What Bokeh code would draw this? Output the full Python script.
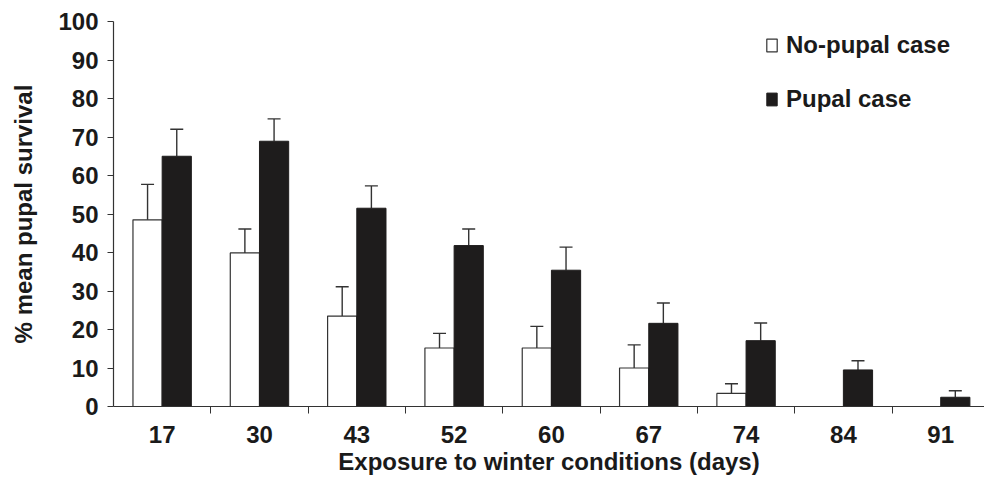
from bokeh.plotting import figure
from bokeh.models import (ColumnDataSource, FixedTicker, Range1d, Whisker, TeeHead,
                          Legend, LegendItem)
from bokeh.embed import file_html
from bokeh.resources import INLINE

days = ["17", "30", "43", "52", "60", "67", "74", "84", "91"]
no_case = [48.5, 39.9, 23.5, 15.2, 15.2, 10.0, 3.4, 0.0, 0.0]
no_case_err = [9.2, 6.2, 7.6, 3.8, 5.6, 6.0, 2.5, 0.0, 0.0]
case = [65.0, 68.9, 51.5, 41.8, 35.4, 21.6, 17.1, 9.5, 2.4]
case_err = [7.0, 5.8, 5.8, 4.3, 6.0, 5.3, 4.6, 2.4, 1.7]
y_ticks = [0, 10, 20, 30, 40, 50, 60, 70, 80, 90, 100]

FONT = "Liberation Sans"
BAR_W = 0.30
centers = [i + 0.5 for i in range(len(days))]

src_no = ColumnDataSource(dict(
    x=[c - BAR_W / 2 for c in centers], top=no_case))
src_no_err = ColumnDataSource(dict(
    x=[c - BAR_W / 2 for c, e in zip(centers, no_case_err) if e > 0],
    upper=[v + e for v, e in zip(no_case, no_case_err) if e > 0],
    lower=[v - e for v, e in zip(no_case, no_case_err) if e > 0]))
src_yes = ColumnDataSource(dict(
    x=[c + BAR_W / 2 for c in centers], top=case,
    upper=[v + e for v, e in zip(case, case_err)],
    lower=case))

p = figure(width=984, height=482, output_backend="svg", toolbar_location=None,
           x_range=Range1d(0, 8.95), y_range=Range1d(0, 100),
           min_border_left=113, min_border_top=21, min_border_right=0,
           min_border_bottom=76)
p.outline_line_color = None
p.grid.visible = False
p.background_fill_color = "white"

r_no = p.vbar(x="x", top="top", width=BAR_W, bottom=0, source=src_no,
              fill_color="white", line_color="#333333", line_width=1.2)
r_yes = p.vbar(x="x", top="top", width=BAR_W, bottom=0, source=src_yes,
               fill_color="#1e1c1c", line_color="#1e1c1c", line_width=1)

p.add_layout(Whisker(source=src_no_err, base="x", upper="upper", lower="lower",
                     line_color="#333333", line_width=1.4,
                     upper_head=TeeHead(size=13, line_color="#333333", line_width=1.4),
                     lower_head=TeeHead(size=13, line_color="#333333", line_width=1.4)))
p.add_layout(Whisker(source=src_yes, base="x", upper="upper", lower="lower",
                     line_color="#333333", line_width=1.4,
                     upper_head=TeeHead(size=13, line_color="#333333", line_width=1.4),
                     lower_head=None))

# x axis: labels at centres, ticks at category boundaries
xa = p.xaxis[0]
xa.ticker = FixedTicker(ticks=centers, minor_ticks=list(range(1, len(days))))
xa.major_label_overrides = {c: d for c, d in zip(centers, days)}
xa.major_tick_out = 0
xa.major_tick_in = 0
xa.minor_tick_out = 7
xa.minor_tick_in = 0
xa.minor_tick_line_color = "#333333"
xa.axis_line_color = "#333333"
xa.axis_line_width = 1.2
xa.major_label_text_font = FONT
xa.major_label_text_font_style = "bold"
xa.major_label_text_font_size = "24px"
xa.major_label_text_color = "#1a1a1a"
xa.major_label_standoff = 12
xa.axis_label = "Exposure to winter conditions (days)"
xa.axis_label_text_font = FONT
xa.axis_label_text_font_style = "bold"
xa.axis_label_text_font_size = "24px"
xa.axis_label_text_color = "#1a1a1a"
xa.axis_label_standoff = 2

ya = p.yaxis[0]
ya.ticker = FixedTicker(ticks=y_ticks, minor_ticks=[])
ya.major_tick_out = 6
ya.major_tick_in = 0
ya.major_tick_line_color = "#333333"
ya.axis_line_color = "#333333"
ya.axis_line_width = 1.2
ya.major_label_text_font = FONT
ya.major_label_text_font_style = "bold"
ya.major_label_text_font_size = "24px"
ya.major_label_text_color = "#1a1a1a"
ya.major_label_standoff = 9
ya.axis_label = "% mean pupal survival"
ya.axis_label_text_font = FONT
ya.axis_label_text_font_style = "bold"
ya.axis_label_text_font_size = "24px"
ya.axis_label_text_color = "#1a1a1a"
ya.axis_label_standoff = 18

legend = Legend(items=[LegendItem(label="No-pupal case", renderers=[r_no]),
                       LegendItem(label="Pupal case", renderers=[r_yes])],
                location=(652, 293), orientation="vertical",
                glyph_width=13, glyph_height=16, label_standoff=8,
                spacing=26, padding=0, margin=0,
                border_line_color=None, background_fill_alpha=0,
                label_text_font=FONT, label_text_font_style="bold",
                label_text_font_size="24px", label_text_color="#1a1a1a")
p.add_layout(legend)

open("out.html", "w").write(file_html(p, INLINE))
